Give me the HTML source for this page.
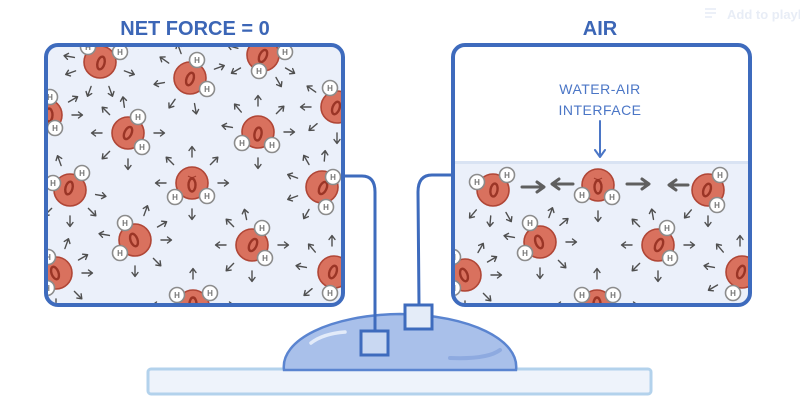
<!DOCTYPE html>
<html><head><meta charset="utf-8"><style>
html,body{margin:0;padding:0;background:#fff;}
svg{display:block;}
.o{fill:#d9715e;stroke:#b04636;stroke-width:1.6;}
.z{fill:none;stroke:#9b3526;stroke-width:2.4;}
.f{fill:none;stroke:#9b3526;stroke-width:1;}
.h{fill:#fff;stroke:#8c8c8c;stroke-width:1.6;}
.ht{font-family:"Liberation Sans",sans-serif;font-weight:bold;font-size:8px;fill:#777;text-anchor:middle;}
</style></head><body>
<svg width="800" height="416" viewBox="0 0 800 416" xmlns="http://www.w3.org/2000/svg">
<defs>
<path id="a" d="M0,0 H10 M6.5,-3 L10.5,0 L6.5,3" stroke="#4f4f4f" stroke-width="1.4" fill="none" stroke-linecap="round" stroke-linejoin="round"/>
<clipPath id="cl"><rect x="48" y="47" width="293" height="256" rx="10"/></clipPath>
<clipPath id="cr"><rect x="455" y="47" width="293" height="256" rx="10"/></clipPath>
</defs>

<!-- faint header -->
<g stroke="#e6ebf5" stroke-width="1.5"><line x1="705" y1="9" x2="716" y2="9"/><line x1="705" y1="13" x2="716" y2="13"/><line x1="705" y1="17" x2="712" y2="17"/></g>
<text x="727" y="19" font-family="Liberation Sans, sans-serif" font-weight="bold" font-size="13" fill="#e8edf6">Add to playl</text>

<!-- titles -->
<text x="195" y="35" font-family="Liberation Sans, sans-serif" font-weight="bold" font-size="20" fill="#3c66b6" text-anchor="middle">NET FORCE = 0</text>
<text x="600" y="35" font-family="Liberation Sans, sans-serif" font-weight="bold" font-size="20" fill="#3c66b6" text-anchor="middle">AIR</text>

<!-- LEFT BOX -->
<rect x="46" y="45" width="297" height="260" rx="12" fill="#ebf0fa"/>
<g clip-path="url(#cl)">
<g transform="translate(100,62)"><use href="#a" transform="rotate(20) translate(26,0)"/><use href="#a" transform="rotate(70) translate(26,0)"/><use href="#a" transform="rotate(110) translate(26,0)"/><use href="#a" transform="rotate(160) translate(26,0)"/><use href="#a" transform="rotate(190) translate(26,0)"/></g>
<g transform="translate(190,78)"><use href="#a" transform="rotate(80) translate(26,0)"/><use href="#a" transform="rotate(125) translate(26,0)"/><use href="#a" transform="rotate(170) translate(26,0)"/><use href="#a" transform="rotate(215) translate(26,0)"/><use href="#a" transform="rotate(250) translate(26,0)"/><use href="#a" transform="rotate(340) translate(26,0)"/></g>
<g transform="translate(263,55)"><use href="#a" transform="rotate(30) translate(26,0)"/><use href="#a" transform="rotate(60) translate(26,0)"/><use href="#a" transform="rotate(150) translate(26,0)"/><use href="#a" transform="rotate(195) translate(26,0)"/><use href="#a" transform="rotate(240) translate(26,0)"/></g>
<g transform="translate(337,107)"><use href="#a" transform="rotate(90) translate(26,0)"/><use href="#a" transform="rotate(140) translate(26,0)"/><use href="#a" transform="rotate(180) translate(26,0)"/><use href="#a" transform="rotate(215) translate(26,0)"/></g>
<g transform="translate(46,115)"><use href="#a" transform="rotate(0) translate(26,0)"/><use href="#a" transform="rotate(100) translate(26,0)"/><use href="#a" transform="rotate(330) translate(26,0)"/></g>
<g transform="translate(128,133)"><use href="#a" transform="rotate(0) translate(26,0)"/><use href="#a" transform="rotate(90) translate(26,0)"/><use href="#a" transform="rotate(135) translate(26,0)"/><use href="#a" transform="rotate(180) translate(26,0)"/><use href="#a" transform="rotate(225) translate(26,0)"/><use href="#a" transform="rotate(262) translate(26,0)"/></g>
<g transform="translate(258,132)"><use href="#a" transform="rotate(0) translate(26,0)"/><use href="#a" transform="rotate(90) translate(26,0)"/><use href="#a" transform="rotate(190) translate(26,0)"/><use href="#a" transform="rotate(230) translate(26,0)"/><use href="#a" transform="rotate(270) translate(26,0)"/><use href="#a" transform="rotate(315) translate(26,0)"/></g>
<g transform="translate(70,190)"><use href="#a" transform="rotate(10) translate(26,0)"/><use href="#a" transform="rotate(45) translate(26,0)"/><use href="#a" transform="rotate(90) translate(26,0)"/><use href="#a" transform="rotate(135) translate(26,0)"/><use href="#a" transform="rotate(250) translate(26,0)"/></g>
<g transform="translate(192,183)"><use href="#a" transform="rotate(0) translate(26,0)"/><use href="#a" transform="rotate(90) translate(26,0)"/><use href="#a" transform="rotate(180) translate(26,0)"/><use href="#a" transform="rotate(225) translate(26,0)"/><use href="#a" transform="rotate(270) translate(26,0)"/><use href="#a" transform="rotate(315) translate(26,0)"/></g>
<g transform="translate(322,187)"><use href="#a" transform="rotate(120) translate(26,0)"/><use href="#a" transform="rotate(160) translate(26,0)"/><use href="#a" transform="rotate(200) translate(26,0)"/><use href="#a" transform="rotate(240) translate(26,0)"/><use href="#a" transform="rotate(275) translate(26,0)"/></g>
<g transform="translate(135,240)"><use href="#a" transform="rotate(0) translate(26,0)"/><use href="#a" transform="rotate(45) translate(26,0)"/><use href="#a" transform="rotate(90) translate(26,0)"/><use href="#a" transform="rotate(190) translate(26,0)"/><use href="#a" transform="rotate(290) translate(26,0)"/><use href="#a" transform="rotate(330) translate(26,0)"/></g>
<g transform="translate(252,245)"><use href="#a" transform="rotate(0) translate(26,0)"/><use href="#a" transform="rotate(90) translate(26,0)"/><use href="#a" transform="rotate(135) translate(26,0)"/><use href="#a" transform="rotate(180) translate(26,0)"/><use href="#a" transform="rotate(225) translate(26,0)"/><use href="#a" transform="rotate(258) translate(26,0)"/></g>
<g transform="translate(56,273)"><use href="#a" transform="rotate(0) translate(26,0)"/><use href="#a" transform="rotate(45) translate(26,0)"/><use href="#a" transform="rotate(90) translate(26,0)"/><use href="#a" transform="rotate(290) translate(26,0)"/><use href="#a" transform="rotate(330) translate(26,0)"/></g>
<g transform="translate(332,272)"><use href="#a" transform="rotate(140) translate(26,0)"/><use href="#a" transform="rotate(190) translate(26,0)"/><use href="#a" transform="rotate(230) translate(26,0)"/><use href="#a" transform="rotate(270) translate(26,0)"/></g>
<g transform="translate(193,305)"><use href="#a" transform="rotate(180) translate(30,0)"/><use href="#a" transform="rotate(0) translate(30,0)"/><use href="#a" transform="rotate(270) translate(26,0)"/></g>

<g>
<circle class="o" cx="100" cy="62" r="16"/><ellipse class="z" cx="101" cy="63" rx="3.5" ry="6.5" transform="rotate(15 101 63)"/>
<circle class="h" cx="88" cy="47" r="7.5"/><text class="ht" x="88" y="50">H</text>
<circle class="h" cx="120" cy="52" r="7.5"/><text class="ht" x="120" y="55">H</text>

<circle class="o" cx="190" cy="78" r="16"/><ellipse class="z" cx="190" cy="79" rx="3.5" ry="6.5" transform="rotate(20 190 79)"/>
<circle class="h" cx="197" cy="60" r="7.5"/><text class="ht" x="197" y="63">H</text>
<circle class="h" cx="207" cy="89" r="7.5"/><text class="ht" x="207" y="92">H</text>

<circle class="o" cx="263" cy="55" r="16"/><ellipse class="z" cx="263" cy="56" rx="3.5" ry="6.5" transform="rotate(25 263 56)"/>
<circle class="h" cx="285" cy="52" r="7.5"/><text class="ht" x="285" y="55">H</text>
<circle class="h" cx="259" cy="71" r="7.5"/><text class="ht" x="259" y="74">H</text>

<circle class="o" cx="337" cy="107" r="16"/><ellipse class="z" cx="336" cy="108" rx="3.5" ry="6.5" transform="rotate(20 336 108)"/>
<circle class="h" cx="330" cy="88" r="7.5"/><text class="ht" x="330" y="91">H</text>

<circle class="o" cx="46" cy="115" r="16"/><ellipse class="z" cx="49" cy="115" rx="3.5" ry="6.5"/>
<circle class="h" cx="50" cy="97" r="7.5"/><text class="ht" x="50" y="100">H</text>
<circle class="h" cx="55" cy="128" r="7.5"/><text class="ht" x="55" y="131">H</text>

<circle class="o" cx="128" cy="133" r="16"/><ellipse class="z" cx="128" cy="133" rx="3.5" ry="6.5" transform="rotate(25 128 133)"/>
<circle class="h" cx="138" cy="117" r="7.5"/><text class="ht" x="138" y="120">H</text>
<circle class="h" cx="142" cy="147" r="7.5"/><text class="ht" x="142" y="150">H</text>

<circle class="o" cx="258" cy="132" r="16"/><ellipse class="z" cx="258" cy="134" rx="3.5" ry="6.5" transform="rotate(10 258 134)"/>
<circle class="h" cx="242" cy="143" r="7.5"/><text class="ht" x="242" y="146">H</text>
<circle class="h" cx="272" cy="145" r="7.5"/><text class="ht" x="272" y="148">H</text>

<circle class="o" cx="70" cy="190" r="16"/><ellipse class="z" cx="69" cy="188" rx="3.5" ry="6.5" transform="rotate(15 69 188)"/>
<circle class="h" cx="53" cy="183" r="7.5"/><text class="ht" x="53" y="186">H</text>
<circle class="h" cx="82" cy="173" r="7.5"/><text class="ht" x="82" y="176">H</text>

<circle class="o" cx="192" cy="183" r="16"/><ellipse class="z" cx="192" cy="185" rx="3.5" ry="6.5"/><path class="f" d="M188,176 q4,3 8,0"/>
<circle class="h" cx="175" cy="197" r="7.5"/><text class="ht" x="175" y="200">H</text>
<circle class="h" cx="207" cy="196" r="7.5"/><text class="ht" x="207" y="199">H</text>

<circle class="o" cx="322" cy="187" r="16"/><ellipse class="z" cx="323" cy="188" rx="3.5" ry="6.5" transform="rotate(25 323 188)"/>
<circle class="h" cx="333" cy="177" r="7.5"/><text class="ht" x="333" y="180">H</text>
<circle class="h" cx="326" cy="207" r="7.5"/><text class="ht" x="326" y="210">H</text>

<circle class="o" cx="135" cy="240" r="16"/><ellipse class="z" cx="134" cy="240" rx="3.5" ry="6.5" transform="rotate(-20 134 240)"/>
<circle class="h" cx="125" cy="223" r="7.5"/><text class="ht" x="125" y="226">H</text>
<circle class="h" cx="120" cy="253" r="7.5"/><text class="ht" x="120" y="256">H</text>

<circle class="o" cx="252" cy="245" r="16"/><ellipse class="z" cx="253" cy="245" rx="3.5" ry="6.5" transform="rotate(25 253 245)"/>
<circle class="h" cx="262" cy="228" r="7.5"/><text class="ht" x="262" y="231">H</text>
<circle class="h" cx="265" cy="258" r="7.5"/><text class="ht" x="265" y="261">H</text>

<circle class="o" cx="56" cy="273" r="16"/><ellipse class="z" cx="55" cy="273" rx="3.5" ry="6.5" transform="rotate(-20 55 273)"/>
<circle class="h" cx="48" cy="257" r="7.5"/><text class="ht" x="48" y="260">H</text>
<circle class="h" cx="47" cy="288" r="7.5"/><text class="ht" x="47" y="291">H</text>

<circle class="o" cx="334" cy="272" r="16"/><ellipse class="z" cx="333" cy="272" rx="3.5" ry="6.5" transform="rotate(20 333 272)"/>
<circle class="h" cx="330" cy="293" r="7.5"/><text class="ht" x="330" y="296">H</text>

<circle class="o" cx="193" cy="306" r="16"/><ellipse class="z" cx="193" cy="304" rx="3.5" ry="6.5"/>
<circle class="h" cx="177" cy="295" r="7.5"/><text class="ht" x="177" y="298">H</text>
<circle class="h" cx="210" cy="293" r="7.5"/><text class="ht" x="210" y="296">H</text>
</g>
</g>
<rect x="46" y="45" width="297" height="260" rx="12" fill="none" stroke="#3e6bbd" stroke-width="4"/>

<!-- RIGHT BOX -->
<rect x="453" y="45" width="297" height="260" rx="12" fill="#fff"/>
<g clip-path="url(#cr)">
<rect x="453" y="162" width="297" height="145" fill="#ebf0fa"/>
<rect x="453" y="161" width="297" height="3" fill="#d9e3f3"/>
<g stroke="#5f5f5f" stroke-width="3" fill="none" stroke-linecap="round" stroke-linejoin="round">
<path d="M522,187 H543 M537,182 L544,187 L537,192"/>
<path d="M573,184 H553 M559,179 L552,184 L559,189"/>
<path d="M627,184 H648 M642,179 L649,184 L642,189"/>
<path d="M688,185 H670 M676,180 L669,185 L676,190"/>
</g>
<g transform="translate(493,190)"><use href="#a" transform="rotate(60) translate(26,0)"/><use href="#a" transform="rotate(95) translate(26,0)"/><use href="#a" transform="rotate(130) translate(26,0)"/></g>
<g transform="translate(598,185)"><use href="#a" transform="rotate(90) translate(26,0)"/></g>
<g transform="translate(708,190)"><use href="#a" transform="rotate(90) translate(26,0)"/><use href="#a" transform="rotate(130) translate(26,0)"/></g>
<g transform="translate(540,242)"><use href="#a" transform="rotate(0) translate(26,0)"/><use href="#a" transform="rotate(45) translate(26,0)"/><use href="#a" transform="rotate(90) translate(26,0)"/><use href="#a" transform="rotate(190) translate(26,0)"/><use href="#a" transform="rotate(290) translate(26,0)"/><use href="#a" transform="rotate(320) translate(26,0)"/></g>
<g transform="translate(658,245)"><use href="#a" transform="rotate(0) translate(26,0)"/><use href="#a" transform="rotate(90) translate(26,0)"/><use href="#a" transform="rotate(135) translate(26,0)"/><use href="#a" transform="rotate(180) translate(26,0)"/><use href="#a" transform="rotate(225) translate(26,0)"/><use href="#a" transform="rotate(260) translate(26,0)"/></g>
<g transform="translate(465,275)"><use href="#a" transform="rotate(0) translate(26,0)"/><use href="#a" transform="rotate(45) translate(26,0)"/><use href="#a" transform="rotate(90) translate(26,0)"/><use href="#a" transform="rotate(300) translate(26,0)"/><use href="#a" transform="rotate(330) translate(26,0)"/></g>
<g transform="translate(740,272)"><use href="#a" transform="rotate(150) translate(26,0)"/><use href="#a" transform="rotate(190) translate(26,0)"/><use href="#a" transform="rotate(230) translate(26,0)"/><use href="#a" transform="rotate(270) translate(26,0)"/></g>
<g transform="translate(597,305)"><use href="#a" transform="rotate(180) translate(30,0)"/><use href="#a" transform="rotate(270) translate(26,0)"/><use href="#a" transform="rotate(0) translate(30,0)"/></g>

<circle class="o" cx="493" cy="190" r="16"/><ellipse class="z" cx="494" cy="190" rx="3.5" ry="6.5" transform="rotate(10 494 190)"/>
<circle class="h" cx="477" cy="182" r="7.5"/><text class="ht" x="477" y="185">H</text>
<circle class="h" cx="507" cy="175" r="7.5"/><text class="ht" x="507" y="178">H</text>

<circle class="o" cx="598" cy="185" r="16"/><ellipse class="z" cx="598" cy="187" rx="3.5" ry="6.5"/><path class="f" d="M594,178 q4,3 8,0"/>
<circle class="h" cx="582" cy="195" r="7.5"/><text class="ht" x="582" y="198">H</text>
<circle class="h" cx="612" cy="197" r="7.5"/><text class="ht" x="612" y="200">H</text>

<circle class="o" cx="708" cy="190" r="16"/><ellipse class="z" cx="707" cy="190" rx="3.5" ry="6.5" transform="rotate(20 707 190)"/>
<circle class="h" cx="720" cy="175" r="7.5"/><text class="ht" x="720" y="178">H</text>
<circle class="h" cx="717" cy="205" r="7.5"/><text class="ht" x="717" y="208">H</text>

<circle class="o" cx="540" cy="242" r="16"/><ellipse class="z" cx="539" cy="242" rx="3.5" ry="6.5" transform="rotate(-20 539 242)"/>
<circle class="h" cx="530" cy="223" r="7.5"/><text class="ht" x="530" y="226">H</text>
<circle class="h" cx="525" cy="253" r="7.5"/><text class="ht" x="525" y="256">H</text>

<circle class="o" cx="658" cy="245" r="16"/><ellipse class="z" cx="659" cy="245" rx="3.5" ry="6.5" transform="rotate(25 659 245)"/>
<circle class="h" cx="667" cy="228" r="7.5"/><text class="ht" x="667" y="231">H</text>
<circle class="h" cx="670" cy="258" r="7.5"/><text class="ht" x="670" y="261">H</text>

<circle class="o" cx="465" cy="275" r="16"/><ellipse class="z" cx="464" cy="275" rx="3.5" ry="6.5" transform="rotate(-20 464 275)"/>
<circle class="h" cx="453" cy="257" r="7.5"/><text class="ht" x="453" y="260">H</text>
<circle class="h" cx="453" cy="288" r="7.5"/><text class="ht" x="453" y="291">H</text>

<circle class="o" cx="742" cy="272" r="16"/><ellipse class="z" cx="741" cy="272" rx="3.5" ry="6.5" transform="rotate(20 741 272)"/>
<circle class="h" cx="733" cy="293" r="7.5"/><text class="ht" x="733" y="296">H</text>

<circle class="o" cx="597" cy="306" r="16"/><ellipse class="z" cx="597" cy="304" rx="3.5" ry="6.5"/>
<circle class="h" cx="582" cy="295" r="7.5"/><text class="ht" x="582" y="298">H</text>
<circle class="h" cx="613" cy="295" r="7.5"/><text class="ht" x="613" y="298">H</text>
</g>
<rect x="453" y="45" width="297" height="260" rx="12" fill="none" stroke="#3e6bbd" stroke-width="4"/>

<!-- interface label -->
<text x="600" y="94" font-family="Liberation Sans, sans-serif" font-size="14" letter-spacing="0.5" fill="#4b76c6" text-anchor="middle">WATER-AIR</text>
<text x="600" y="115" font-family="Liberation Sans, sans-serif" font-size="14" letter-spacing="0.5" fill="#4b76c6" text-anchor="middle">INTERFACE</text>
<path d="M600,121 V157 M595,150 L600,157 L605,150" stroke="#4b76c6" stroke-width="2" fill="none" stroke-linecap="round" stroke-linejoin="round"/>

<!-- base bar -->
<rect x="148" y="369" width="503" height="25" rx="3" fill="#eef3fb" stroke="#b3d2ec" stroke-width="3"/>
<!-- drop -->
<path d="M284,370 C280,340 330,315 400,314 C470,315 520,340 516,370 Z" fill="#a9c0ea" stroke="#5a84d0" stroke-width="2.5"/>
<path d="M311,343 C320,336 332,333 345,332" stroke="#e3ebf9" stroke-width="3.5" fill="none" stroke-linecap="round"/>
<path d="M450,358 C475,359 492,356 500,350" stroke="#8eaae0" stroke-width="4" fill="none" stroke-linecap="round"/>

<!-- connectors -->
<path d="M343,176 H362 Q375,176 375,192 L375,331" stroke="#3e6bbd" stroke-width="3" fill="none"/>
<path d="M453,175 H432 Q418,175 418,192 L419,305" stroke="#3e6bbd" stroke-width="3" fill="none"/>
<rect x="361" y="331" width="27" height="24" fill="#c9d8f2" stroke="#3e6bbd" stroke-width="3"/>
<rect x="405" y="305" width="27" height="24" fill="#e4ecf8" stroke="#3e6bbd" stroke-width="3"/>
</svg>
</body></html>
